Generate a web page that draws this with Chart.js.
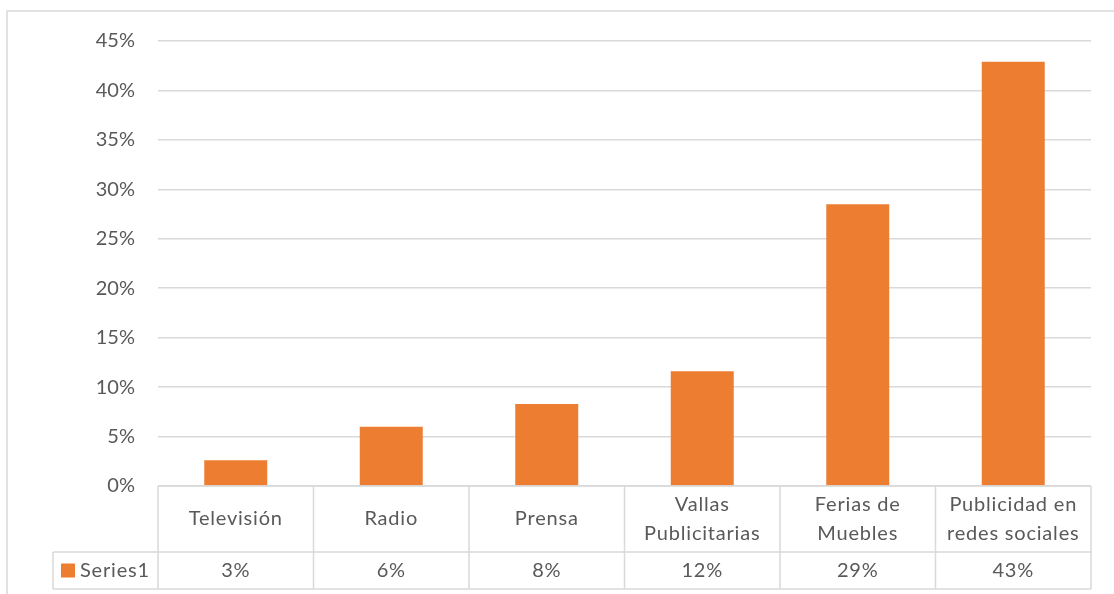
<!DOCTYPE html>
<html lang="es">

<head>
  <meta charset="utf-8">
  <title>Medios publicitarios</title>
  <script src="https://cdn.jsdelivr.net/npm/chart.js@4.4.0/dist/chart.umd.min.js"></script>
  <style>
    html, body { margin: 0; padding: 0; background: #fff; }
    #wrap { width: 1114px; height: 594px; }
  </style>
</head>

<body>
  <div id="wrap"><canvas id="myChart"></canvas></div>

  <script>
    // categories (multi-line labels for the data table) and the series values in %
    const categories = [
      ['Televisión'],
      ['Radio'],
      ['Prensa'],
      ['Vallas', 'Publicitarias'],
      ['Ferias de', 'Muebles'],
      ['Publicidad en', 'redes sociales']
    ];
    const seriesName = 'Series1';
    const series1 = [2.6, 6.0, 8.3, 11.6, 28.5, 42.9];
    const yTicks = [0, 5, 10, 15, 20, 25, 30, 35, 40, 45];

    const barColor = '#ED7D31';
    const lineColor = '#d9d9d9';
    const textColor = '#595959';
    const fontFamily = 'Lato, "Open Sans", sans-serif';
    const fontSize = 20;

    // Excel-style data table under the plot, plus the outer frame
    const dataTable = {
      id: 'dataTable',
      afterDraw(chart) {
        const ctx = chart.ctx;
        const x = chart.scales.x;
        const area = chart.chartArea;
        const top = area.bottom;
        const mid = top + 66;
        const bottom = top + 103;
        const half = (x.getPixelForValue(1) - x.getPixelForValue(0)) / 2;
        const legendLeft = 53;

        ctx.save();
        ctx.strokeStyle = lineColor;
        ctx.lineWidth = 1.5;

        // outer frame
        ctx.beginPath();
        ctx.moveTo(7, chart.height);
        ctx.lineTo(7, 11);
        ctx.lineTo(chart.width, 11);
        ctx.stroke();

        // horizontal rules
        ctx.beginPath();
        ctx.moveTo(area.left, top);
        ctx.lineTo(area.right, top);
        ctx.moveTo(legendLeft, mid);
        ctx.lineTo(area.right, mid);
        ctx.moveTo(legendLeft, bottom);
        ctx.lineTo(area.right, bottom);
        // vertical rules
        ctx.moveTo(legendLeft, mid);
        ctx.lineTo(legendLeft, bottom);
        for (let i = 0; i <= categories.length; i++) {
          const px = i < categories.length ? x.getPixelForValue(i) - half : area.right;
          ctx.moveTo(px, top);
          ctx.lineTo(px, bottom);
        }
        ctx.stroke();

        ctx.fillStyle = textColor;
        ctx.font = fontSize + 'px ' + fontFamily;
        ctx.letterSpacing = '0.8px';
        ctx.textAlign = 'center';
        ctx.textBaseline = 'middle';
        const lineH = 29;
        categories.forEach((lines, i) => {
          const cx = x.getPixelForValue(i);
          const cy = (top + mid) / 2 - (lines.length - 1) * lineH / 2;
          lines.forEach((t, j) => ctx.fillText(t, cx, cy + j * lineH));
          ctx.fillText(Math.round(series1[i]) + '%', cx, (mid + bottom) / 2);
        });

        // legend key
        const ky = (mid + bottom) / 2;
        ctx.fillStyle = barColor;
        ctx.fillRect(61, ky - 7, 14, 14);
        ctx.fillStyle = textColor;
        ctx.textAlign = 'left';
        ctx.fillText(seriesName, 80, ky);
        ctx.restore();
      }
    };

    const config = {
      type: 'bar',
      data: {
        labels: categories,
        datasets: [{
          label: seriesName,
          data: series1,
          backgroundColor: barColor,
          barPercentage: 0.405,
          categoryPercentage: 1
        }]
      },
      options: {
        responsive: true,
        maintainAspectRatio: false,
        animation: false,
        layout: {
          padding: { top: 41, right: 23, bottom: 108, left: 0 }
        },
        scales: {
          x: {
            display: false
          },
          y: {
            min: 0,
            max: 45,
            afterFit(scale) { scale.width = 158; },
            afterBuildTicks(scale) { scale.ticks = yTicks.map(v => ({ value: v })); },
            border: { display: false },
            grid: { color: lineColor, lineWidth: 1.5, drawTicks: false },
            ticks: {
              padding: 23,
              color: textColor,
              font: { family: fontFamily, size: fontSize },
              callback: v => v + '%'
            }
          }
        },
        plugins: {
          legend: { display: false },
          tooltip: { enabled: false }
        }
      },
      plugins: [dataTable]
    };

    new Chart(document.getElementById('myChart'), config);
  </script>
</body>

</html>
